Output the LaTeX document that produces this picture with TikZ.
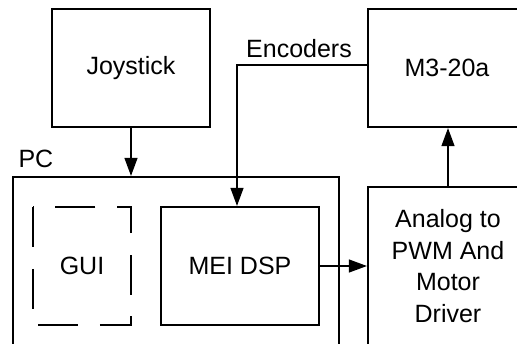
\documentclass[tikz,border=0pt]{standalone}
\usepackage{fontspec}
\setmainfont{Liberation Sans}
\usetikzlibrary{arrows.meta}
\begin{document}
\begin{tikzpicture}[x=1pt,y=-1pt,
  every node/.style={font=\fontsize{25}{31.7}\selectfont},
  block/.style={draw,line width=2.2pt,inner sep=0pt,align=center},
  dashblock/.style={inner sep=0pt},
  link/.style={line width=1.2pt,-{Triangle[length=18pt,width=13pt]}},
  plain/.style={line width=1.2pt}]
\useasboundingbox (0,0) rectangle (517,343);

% outer computer box and its inner parts
\node[block,minimum width=326pt,minimum height=182pt] (pc) at (176,268) {};
\node[anchor=base west] (pclabel) at (15,167) {PC};
\node[dashblock,minimum width=98pt,minimum height=117pt] (gui) at (82,266) {GUI};
\draw[line width=2.2pt,dash pattern=on 40pt off 21.5pt]
  (gui.north west) -- (gui.south west) -- (gui.south east) -- (gui.north east) -- cycle;
\node[block,minimum width=158pt,minimum height=118pt] (dsp) at (240,266) {MEI DSP};

% external blocks
\node[block,minimum width=158pt,minimum height=118pt] (joy) at (131,68) {Joystick};
\node[block,minimum width=158pt,minimum height=118pt] (m3) at (447,68) {M3-20a};
\node[block,minimum width=160pt,minimum height=158pt] (drv) at (448,266)
  {Analog to\\PWM And\\Motor\\Driver};

% connections
\draw[link] (joy.south) -- (joy.south |- pc.north);
\coordinate (bend) at (237,65);
\draw[link] (bend -| m3.west) -- (bend) -- (bend |- dsp.north);
\node[anchor=base] (enclabel) at (299,57) {Encoders};
\draw[link] (dsp.east) -- (drv.west |- dsp.east);
\draw[link] (drv.north) -- (drv.north |- m3.south);
\end{tikzpicture}
\end{document}
